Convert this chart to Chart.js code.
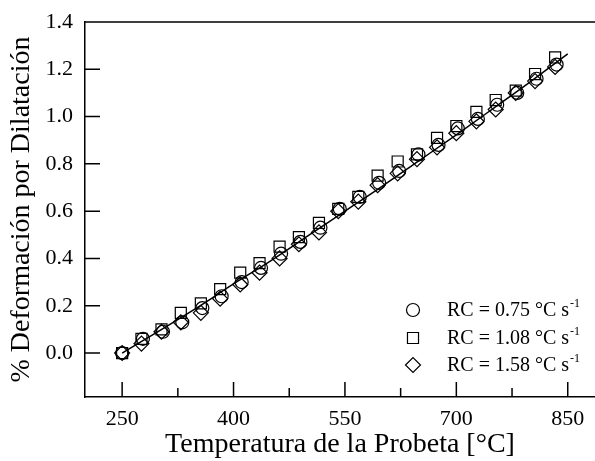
<!DOCTYPE html>
<html>
<head>
<meta charset="utf-8">
<script src="https://cdn.jsdelivr.net/npm/chart.js@4"></script>
<style>
  body { margin: 0; background: #fff; }
  #wrap { width: 595px; height: 461px; }
</style>
</head>
<body>
<div id="wrap"><canvas id="dilChart" width="595" height="461"></canvas></div>
<script>
// temperatures (°C) and % deformation
const tempSquares = [250, 276, 303, 329, 356, 382, 409, 435, 462, 488, 515, 541, 568, 594, 621, 647, 674, 700, 727, 753, 780, 806, 833];
const rc108 = [0.00, 0.06, 0.10, 0.17, 0.21, 0.27, 0.34, 0.38, 0.45, 0.49, 0.55, 0.61, 0.66, 0.75, 0.81, 0.84, 0.91, 0.96, 1.02, 1.07, 1.11, 1.18, 1.25];

const tempCircles = [250, 278, 305, 331, 358, 384, 411, 437, 464, 490, 517, 543, 570, 596, 623, 649, 676, 702, 729, 755, 782, 808, 835];
const rc075 = [0.00, 0.06, 0.09, 0.13, 0.19, 0.24, 0.30, 0.36, 0.42, 0.47, 0.53, 0.61, 0.66, 0.72, 0.77, 0.84, 0.88, 0.95, 0.99, 1.05, 1.10, 1.16, 1.22];

const tempDiamonds = [250, 276, 303, 329, 356, 382, 409, 435, 462, 488, 515, 541, 568, 594, 621, 647, 674, 700, 727, 753, 780, 806, 833];
const rc158 = [0.00, 0.04, 0.09, 0.13, 0.17, 0.23, 0.29, 0.34, 0.40, 0.46, 0.51, 0.60, 0.64, 0.71, 0.76, 0.82, 0.87, 0.93, 0.98, 1.03, 1.10, 1.15, 1.21];

// fitted curve
const fitTemps = [250, 300, 350, 400, 450, 500, 550, 600, 650, 700, 750, 800, 850];
const fitValues = [0.00, 0.094, 0.19, 0.292, 0.39, 0.495, 0.60, 0.705, 0.814, 0.923, 1.035, 1.148, 1.265];

const legendLabels = ["RC = 0.75 °C s", "RC = 1.08 °C s", "RC = 1.58 °C s"];
const xMajorTicks = [250, 400, 550, 700, 850];
const xMinorTicks = [325, 475, 625, 775];
const yTicks = [0, 0.2, 0.4, 0.6, 0.8, 1.0, 1.2, 1.4];

const FONT = '"Liberation Serif", "Times New Roman", serif';

const pts = (xs, ys) => xs.map((x, i) => ({ x, y: ys[i] }));

const marker = (style, r) => ({
  showLine: false,
  pointStyle: style,
  pointRadius: r,
  pointHoverRadius: r,
  pointBorderWidth: 1.2,
  pointBorderColor: "#000",
  pointBackgroundColor: "rgba(0,0,0,0)",
});

// ticks + frame drawn inward, like the original
const framePlugin = {
  id: "frame",
  afterDraw(chart) {
    const { ctx, chartArea: a, scales: { x, y } } = chart;
    ctx.save();
    ctx.strokeStyle = "#000";
    ctx.lineWidth = 1.5;
    ctx.beginPath();
    ctx.moveTo(a.left, a.top);
    ctx.lineTo(a.right, a.top);
    xMajorTicks.forEach(v => {
      const px = x.getPixelForValue(v);
      ctx.moveTo(px, a.bottom);
      ctx.lineTo(px, a.bottom - 15);
    });
    xMinorTicks.forEach(v => {
      const px = x.getPixelForValue(v);
      ctx.moveTo(px, a.bottom);
      ctx.lineTo(px, a.bottom - 9);
    });
    yTicks.forEach(v => {
      const py = y.getPixelForValue(v);
      ctx.moveTo(a.left, py);
      ctx.lineTo(a.left + 15, py);
    });
    ctx.stroke();

    // legend
    const styles = [["circle", 6.5], ["rect", 7.8], ["rectRot", 7.5]];
    const rows = [310, 338, 365];
    styles.forEach((s, i) => {
      ctx.fillStyle = "rgba(0,0,0,0)";
      ctx.strokeStyle = "#000";
      ctx.lineWidth = 1.2;
      Chart.helpers.drawPoint(ctx, { pointStyle: s[0], radius: s[1], rotation: 0, borderWidth: 1.2 }, 413, rows[i]);
      ctx.fillStyle = "#000";
      ctx.font = "20px " + FONT;
      ctx.textBaseline = "middle";
      ctx.textAlign = "left";
      ctx.fillText(legendLabels[i], 447, rows[i] + 1);
      const w = ctx.measureText(legendLabels[i]).width;
      ctx.font = "12px " + FONT;
      ctx.fillText("-1", 447 + w + 1, rows[i] - 6);
    });
    ctx.restore();
  }
};

new Chart(document.getElementById("dilChart"), {
  type: "scatter",
  data: {
    datasets: [
      {
        label: "fit",
        data: pts(fitTemps, fitValues),
        showLine: true,
        borderColor: "#000",
        borderWidth: 1.5,
        pointRadius: 0,
        cubicInterpolationMode: "monotone",
      },
      { label: legendLabels[0], data: pts(tempCircles, rc075), ...marker("circle", 6.5) },
      { label: legendLabels[1], data: pts(tempSquares, rc108), ...marker("rect", 7.8) },
      { label: legendLabels[2], data: pts(tempDiamonds, rc158), ...marker("rectRot", 7.5) },
    ],
  },
  options: {
    responsive: false,
    animation: false,
    layout: { autoPadding: false, padding: { top: 22, right: 0, left: 0, bottom: 0 } },
    plugins: {
      legend: { display: false },
      tooltip: { enabled: false },
    },
    scales: {
      x: {
        type: "linear",
        min: 200,
        max: 886.7,
        afterFit: s => { s.height = 64; s.paddingLeft = 0; s.paddingRight = 0; },
        afterBuildTicks: s => { s.ticks = xMajorTicks.map(v => ({ value: v })); },
        grid: { display: false, drawTicks: false },
        border: { display: true, color: "#000", width: 1.5 },
        ticks: {
          color: "#000",
          font: { family: FONT, size: 22 },
          padding: 9,
          maxRotation: 0,
        },
        title: {
          display: true,
          text: "Temperatura de la Probeta [°C]",
          color: "#000",
          font: { family: FONT, size: 28 },
          padding: { top: 0, bottom: 0 },
        },
      },
      y: {
        type: "linear",
        min: -0.186,
        max: 1.4,
        afterFit: s => { s.width = 85; s.paddingTop = 0; s.paddingBottom = 0; },
        afterBuildTicks: s => { s.ticks = yTicks.map(v => ({ value: v })); },
        grid: { display: false, drawTicks: false },
        border: { display: true, color: "#000", width: 1.5 },
        ticks: {
          color: "#000",
          font: { family: FONT, size: 22 },
          padding: 12,
          callback: v => v.toFixed(1),
        },
        title: {
          display: true,
          text: "% Deformación por Dilatación",
          color: "#000",
          font: { family: FONT, size: 28 },
          padding: { top: 5, bottom: 0 },
        },
      },
    },
  },
  plugins: [framePlugin],
});
</script>
</body>
</html>
